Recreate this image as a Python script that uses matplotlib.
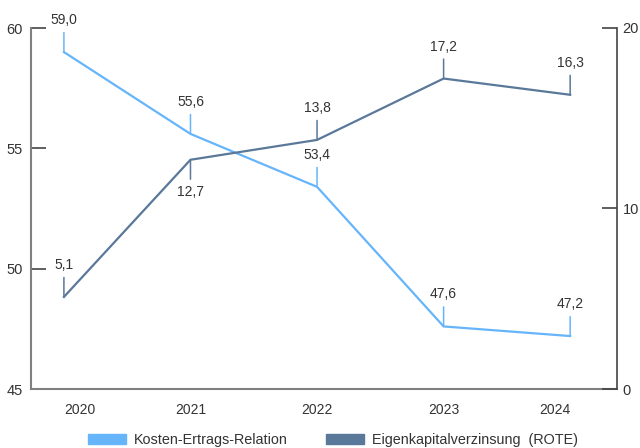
import matplotlib.pyplot as plt
from matplotlib.patches import Patch

plt.rcParams['font.family'] = ['Liberation Sans', 'DejaVu Sans']

years = ['2020', '2021', '2022', '2023', '2024']
cir = [59.0, 55.6, 53.4, 47.6, 47.2]      # Kosten-Ertrags-Relation (%)
rote = [5.1, 12.7, 13.8, 17.2, 16.3]      # Eigenkapitalverzinsung (%)
rote_below = [False, True, False, False, False]

c_light = '#66b5fb'
c_dark = '#5a7899'
c_text = '#333333'
c_axis = '#808080'

fig = plt.figure(figsize=(6.4, 4.48), dpi=100)
ax = fig.add_axes([31 / 640, 1 - 389 / 448, (617 - 31) / 640, (389 - 28) / 448])
ax2 = ax.twinx()

x = list(range(len(years)))
ax.plot(x, cir, color=c_light, lw=1.6, solid_joinstyle='miter', zorder=3)
ax2.plot(x, rote, color=c_dark, lw=1.6, solid_joinstyle='miter', zorder=3)

ax.set_xlim(-0.26, 4.37)
ax.set_ylim(45, 60)
ax2.set_ylim(0, 20)
ax.set_yticks([45, 50, 55, 60])
ax2.set_yticks([0, 10, 20])


def label(axis, xi, v, color, below=False):
    lead = 14 if not below else -14
    axis.annotate('', xy=(xi, v), xytext=(0, lead), textcoords='offset points',
                  arrowprops=dict(arrowstyle='-', color=color, lw=1.1,
                                  shrinkA=0, shrinkB=0))
    axis.annotate(f'{v:.1f}'.replace('.', ','), xy=(xi, v),
                  xytext=(0, lead + (4 if not below else -4)), textcoords='offset points',
                  ha='center', va='bottom' if not below else 'top',
                  fontsize=10, color=c_text)


for i, v in enumerate(cir):
    label(ax, i, v, c_light)
for i, v in enumerate(rote):
    label(ax2, i, v, c_dark, rote_below[i])

# spines
for a in (ax, ax2):
    a.spines['top'].set_visible(False)
ax.spines['left'].set_color(c_axis)
ax.spines['bottom'].set_color(c_axis)
ax.spines['left'].set_linewidth(1.5)
ax.spines['bottom'].set_linewidth(1.5)
ax.spines['right'].set_visible(False)
ax2.spines['left'].set_visible(False)
ax2.spines['bottom'].set_visible(False)
ax2.spines['right'].set_color('#444444')
ax2.spines['right'].set_linewidth(1.2)

ax.tick_params(axis='y', direction='in', length=11, width=1.2, color='#444444',
               labelsize=10.5, labelcolor=c_text, pad=6)
ax2.tick_params(axis='y', direction='in', length=11, width=1.2, color='#444444',
                labelsize=10.5, labelcolor=c_text, pad=4)

ax.set_xticks(x)
ax.set_xticklabels(years)
ax.tick_params(axis='x', length=0, labelsize=10, labelcolor=c_text, pad=10)
xl = ax.get_xticklabels()
xl[0].set_ha('left')
xl[-1].set_ha('right')

handles = [Patch(color=c_light, label='Kosten-Ertrags-Relation'),
           Patch(color=c_dark, label='Eigenkapitalverzinsung  (ROTE)')]
fig.legend(handles=handles, loc='center', bbox_to_anchor=(333 / 640, 1 - 440 / 448), ncol=2,
           frameon=False, fontsize=10.4, handlelength=2.63, handleheight=0.7,
           handletextpad=0.55, columnspacing=2.7, labelcolor=c_text,
           borderpad=0, borderaxespad=0)

fig.savefig('out.png', dpi=100)
